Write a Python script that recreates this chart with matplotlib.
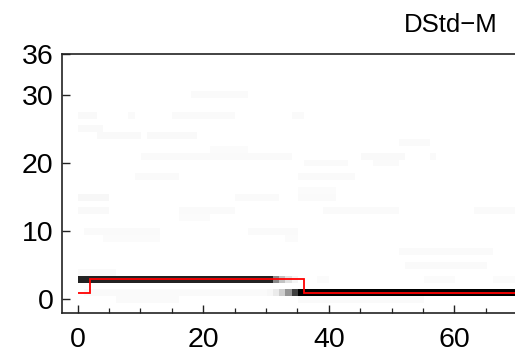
import numpy as np
import matplotlib
matplotlib.use("Agg")
import matplotlib.pyplot as plt
from matplotlib.ticker import MultipleLocator

plt.rcParams["font.family"] = ["Liberation Sans", "DejaVu Sans"]

# grid of the density map: rows are integer states, columns are time steps
N_T = 70
N_S = 36

# faint density cells: (state, t_start, t_stop, level)
HAZE = [
    (30, 18, 27, 0.04),
    (27, 0, 3, 0.05), (27, 8, 9, 0.04), (27, 15, 25, 0.04), (27, 34, 36, 0.04),
    (25, 0, 4, 0.05),
    (24, 3, 10, 0.05), (24, 11, 19, 0.05),
    (23, 51, 56, 0.04),
    (22, 21, 27, 0.03),
    (21, 10, 34, 0.04), (21, 45, 52, 0.05), (21, 56, 57, 0.04),
    (20, 36, 43, 0.04), (20, 47, 51, 0.04),
    (18, 9, 16, 0.04), (18, 35, 44, 0.04),
    (16, 35, 41, 0.03),
    (15, 0, 5, 0.07), (15, 25, 32, 0.04), (15, 35, 41, 0.04),
    (13, 0, 5, 0.05), (13, 16, 25, 0.04), (13, 39, 51, 0.04), (13, 63, 70, 0.04),
    (12, 16, 21, 0.03),
    (10, 1, 13, 0.04), (10, 27, 35, 0.04),
    (9, 4, 13, 0.03), (9, 33, 35, 0.03),
    (7, 51, 66, 0.04),
    (5, 52, 65, 0.04),
    (4, 0, 6, 0.04),
    (3, 38, 40, 0.03), (3, 55, 60, 0.03), (3, 66, 70, 0.03),
    (1, 1, 31, 0.04),
    (0, 6, 16, 0.04), (0, 35, 55, 0.04),
]

# dominant paths
PATH_HI = [(3, 0, 31, 0.88), (3, 31, 32, 0.55), (3, 32, 33, 0.35),
           (3, 33, 34, 0.2), (3, 34, 35, 0.08)]
PATH_LO = [(1, 30, 31, 0.06), (1, 31, 32, 0.15), (1, 32, 33, 0.3),
           (1, 33, 34, 0.5), (1, 34, 35, 0.8), (1, 35, 70, 1.0)]

# true state sequence
TRUE_EDGES = [0, 2, 36, 70]
TRUE_STATES = [1, 3, 1]

Z = np.zeros((N_S, N_T))
for s, t0, t1, lv in HAZE + PATH_HI + PATH_LO:
    Z[s, t0:t1] = np.maximum(Z[s, t0:t1], lv)

fig = plt.figure(figsize=(5.15, 3.6), dpi=100)
ax = fig.add_axes([62 / 515, 47 / 360, 458.4 / 515, 259 / 360])

ax.imshow(Z, origin="lower", extent=(0, N_T, -0.5, N_S - 0.5), aspect="auto",
          cmap="Greys", vmin=0, vmax=1, interpolation="nearest", zorder=1)
ax.stairs(TRUE_STATES, TRUE_EDGES, baseline=None, color="red", linewidth=1.3, zorder=3)

ax.set_xlim(-2.5, 70.5)
ax.set_ylim(-2, 36)
ax.set_xticks([0, 20, 40, 60])
ax.xaxis.set_minor_locator(MultipleLocator(5))
ax.set_yticks([0, 10, 20, 30, 36])

for side in ["left", "bottom", "top"]:
    ax.spines[side].set_linewidth(1.2)
    ax.spines[side].set_color("#222222")
ax.spines["right"].set_visible(False)

ax.tick_params(axis="both", which="major", direction="in", length=6, width=1.0,
               labelsize=20.5, colors="#222222", labelcolor="black")
ax.tick_params(axis="x", which="major", pad=10)
ax.tick_params(axis="y", which="major", pad=6)
ax.tick_params(axis="x", which="minor", direction="in", length=3.5, width=0.9,
               colors="#222222")
ax.tick_params(top=False, right=False, which="both")

fig.text(498 / 515, 1 - 32 / 360, "DStd\u2212M", ha="right", va="baseline",
         fontsize=18.5)

fig.savefig("out.png", dpi=100)
